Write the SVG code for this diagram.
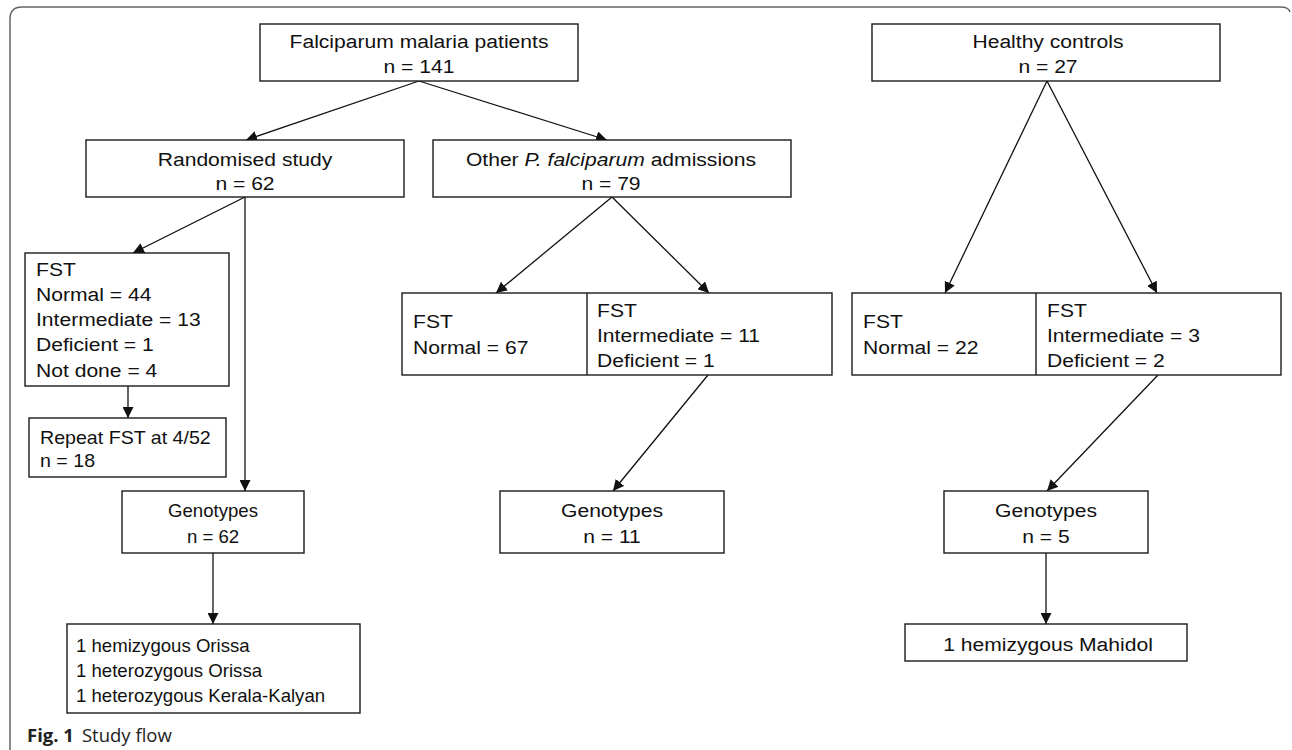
<svg xmlns="http://www.w3.org/2000/svg" width="1292" height="750" viewBox="0 0 1292 750">
<defs>
<style>
.box{fill:#fff;stroke:#1a1a1a;stroke-width:1.4}
.t{font-family:"Liberation Sans",Arial,sans-serif;font-size:19px;fill:#111}
.ts{font-family:"Liberation Sans",Arial,sans-serif;font-size:18px;fill:#111}
.tn{font-family:"Liberation Sans",Arial,sans-serif;font-size:18.6px;fill:#111}
.c{text-anchor:middle}
.edge{stroke:#111;stroke-width:1.3;fill:none;marker-end:url(#ah)}
.cap{font-family:"Open Sans","DejaVu Sans",sans-serif;font-size:18.5px;fill:#222}
</style>
<marker id="ah" viewBox="0 0 10 10" refX="10" refY="5" markerWidth="11" markerHeight="11" markerUnits="userSpaceOnUse" orient="auto">
<path d="M0,0 L10,5 L0,10 z" fill="#111"/>
</marker>
</defs>
<rect width="1292" height="750" fill="#fff"/>
<path d="M10,760 L10,19 Q10,7 22,7 L1280,7 Q1289,7 1290,12" fill="none" stroke="#666" stroke-width="1.5"/>

<g id="connectors">
<line class="edge" x1="419" y1="81" x2="246" y2="140"/>
<line class="edge" x1="419" y1="81" x2="607" y2="140"/>
<line class="edge" x1="245" y1="197" x2="133" y2="253"/>
<line class="edge" x1="245" y1="197" x2="245" y2="491"/>
<line class="edge" x1="128" y1="386" x2="128" y2="418"/>
<line class="edge" x1="213" y1="553" x2="213" y2="624"/>
<line class="edge" x1="612" y1="197" x2="496" y2="293"/>
<line class="edge" x1="612" y1="197" x2="709" y2="293"/>
<line class="edge" x1="708" y1="375" x2="613" y2="491"/>
<line class="edge" x1="1047" y1="81" x2="945" y2="293"/>
<line class="edge" x1="1047" y1="81" x2="1157" y2="293"/>
<line class="edge" x1="1158" y1="375" x2="1047" y2="491"/>
<line class="edge" x1="1046" y1="553" x2="1046" y2="624"/>
</g>

<g id="n-falciparum">
<rect class="box" x="260" y="24" width="318" height="57"/>
<text class="t c" transform="translate(419,48) scale(1.11,1)"><tspan x="0" y="0">Falciparum malaria patients</tspan><tspan x="0" y="25">n = 141</tspan></text>
</g>

<g id="n-healthy">
<rect class="box" x="872" y="24" width="348" height="57"/>
<text class="t c" transform="translate(1048,48) scale(1.11,1)"><tspan x="0" y="0">Healthy controls</tspan><tspan x="0" y="25">n = 27</tspan></text>
</g>

<g id="n-randomised">
<rect class="box" x="86" y="140" width="318" height="57"/>
<text class="t c" transform="translate(245,166) scale(1.11,1)"><tspan x="0" y="0">Randomised study</tspan><tspan x="0" y="24">n = 62</tspan></text>
</g>

<g id="n-other">
<rect class="box" x="433" y="140" width="358" height="57"/>
<text class="t c" transform="translate(611,166) scale(1.11,1)"><tspan x="0" y="0">Other <tspan font-style="italic">P. falciparum</tspan> admissions</tspan><tspan x="0" y="24">n = 79</tspan></text>
</g>

<g id="n-fst-rand">
<rect class="box" x="25" y="253" width="204" height="133"/>
<text class="t" transform="translate(36,276) scale(1.11,1)"><tspan x="0" y="0">FST</tspan><tspan x="0" y="25">Normal = 44</tspan><tspan x="0" y="50">Intermediate = 13</tspan><tspan x="0" y="75">Deficient = 1</tspan><tspan x="0" y="101">Not done = 4</tspan></text>
</g>

<g id="n-repeat">
<rect class="box" x="29" y="418" width="197" height="59"/>
<text class="ts" transform="translate(40,444) scale(1.09,1)"><tspan x="0" y="0">Repeat FST at 4/52</tspan><tspan x="0" y="23">n = 18</tspan></text>
</g>

<g id="n-fst-other">
<rect class="box" x="402" y="293" width="430" height="82"/>
<line x1="587" y1="293" x2="587" y2="375" stroke="#1a1a1a" stroke-width="1.4"/>
<text class="t" transform="translate(413,328) scale(1.11,1)"><tspan x="0" y="0">FST</tspan><tspan x="0" y="26">Normal = 67</tspan></text>
<text class="t" transform="translate(597,317) scale(1.11,1)"><tspan x="0" y="0">FST</tspan><tspan x="0" y="25">Intermediate = 11</tspan><tspan x="0" y="50">Deficient = 1</tspan></text>
</g>

<g id="n-fst-healthy">
<rect class="box" x="852" y="293" width="429" height="82"/>
<line x1="1036" y1="293" x2="1036" y2="375" stroke="#1a1a1a" stroke-width="1.4"/>
<text class="t" transform="translate(863,328) scale(1.11,1)"><tspan x="0" y="0">FST</tspan><tspan x="0" y="26">Normal = 22</tspan></text>
<text class="t" transform="translate(1047,317) scale(1.11,1)"><tspan x="0" y="0">FST</tspan><tspan x="0" y="25">Intermediate = 3</tspan><tspan x="0" y="50">Deficient = 2</tspan></text>
</g>

<g id="n-geno62">
<rect class="box" x="122" y="491" width="182" height="62"/>
<text class="tn c" x="213" y="517">Genotypes<tspan x="213" y="543">n = 62</tspan></text>
</g>

<g id="n-geno11">
<rect class="box" x="500" y="491" width="224" height="62"/>
<text class="t c" transform="translate(612,517) scale(1.11,1)"><tspan x="0" y="0">Genotypes</tspan><tspan x="0" y="26">n = 11</tspan></text>
</g>

<g id="n-geno5">
<rect class="box" x="944" y="491" width="204" height="62"/>
<text class="t c" transform="translate(1046,517) scale(1.11,1)"><tspan x="0" y="0">Genotypes</tspan><tspan x="0" y="26">n = 5</tspan></text>
</g>

<g id="n-result-rand">
<rect class="box" x="67" y="624" width="293" height="89"/>
<text class="tn" x="76" y="652">1 hemizygous Orissa<tspan x="76" y="677">1 heterozygous Orissa</tspan><tspan x="76" y="702">1 heterozygous Kerala-Kalyan</tspan></text>
</g>

<g id="n-result-healthy">
<rect class="box" x="905" y="624" width="282" height="37"/>
<text class="t c" transform="translate(1048,651) scale(1.11,1)">1 hemizygous Mahidol</text>
</g>

<text class="cap" x="27" y="742"><tspan font-weight="bold">Fig. 1</tspan><tspan dx="8">Study flow</tspan></text>
</svg>
